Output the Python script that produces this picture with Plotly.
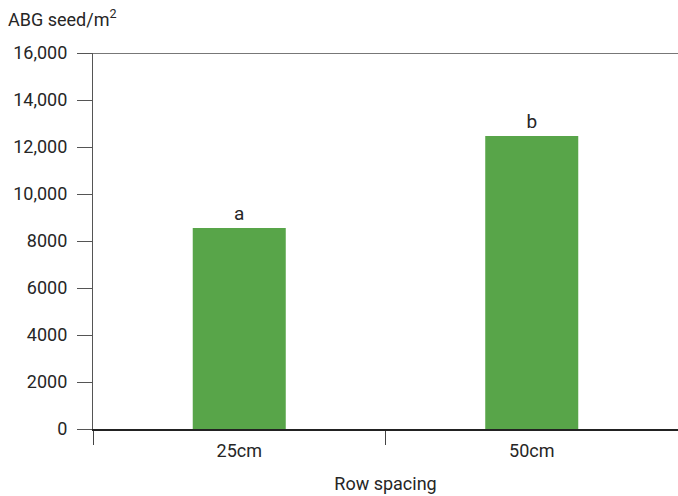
import plotly.graph_objects as go

categories = ["25cm", "50cm"]
values = [8550, 12470]
letters = ["a", "b"]
y_tickvals = [0, 2000, 4000, 6000, 8000, 10000, 12000, 14000, 16000]
y_ticktext = ["0", "2000", "4000", "6000", "8000", "10,000", "12,000", "14,000", "16,000"]

FONT = "Roboto"
TXT = "#262626"
GREEN = "#58a549"

W, H = 678, 496
ML, MR, MT, MB = 93, 0, 53, 67
PW = W - ML - MR

fig = go.Figure()
fig.add_trace(go.Bar(
    x=categories, y=values, marker_color=GREEN, marker_line_width=0,
    text=letters, textposition="outside", cliponaxis=False,
    textfont=dict(family=FONT, size=19, color=TXT),
    width=0.318,
))

fig.update_layout(
    width=W, height=H,
    margin=dict(l=ML, r=MR, t=MT, b=MB, autoexpand=False),
    plot_bgcolor="white", paper_bgcolor="white",
    font=dict(family=FONT, size=18, color=TXT),
    showlegend=False,
    xaxis=dict(
        showline=True, linecolor="#222222", linewidth=1.5,
        ticks="outside", tickson="boundaries", ticklen=14, tickcolor="#444444", tickwidth=1,
        showgrid=False, zeroline=False, ticklabelstandoff=5,
        title=dict(text="Row spacing", standoff=17, font=dict(size=18)),
        tickfont=dict(size=18),
    ),
    yaxis=dict(
        range=[0, 16000], tickvals=y_tickvals, ticktext=y_ticktext,
        showline=True, linecolor="#555555", linewidth=1.2,
        ticks="outside", ticklen=15, tickcolor="#555555", tickwidth=1,
        showgrid=False, zeroline=False, ticklabelstandoff=6,
        tickfont=dict(size=18),
    ),
    annotations=[dict(
        text="ABG seed/m<sup>2</sup>", xref="paper", yref="paper",
        x=-(ML - 6) / PW, y=1, xanchor="left", yanchor="bottom", yshift=21,
        showarrow=False, font=dict(family=FONT, size=18, color=TXT),
    )],
    shapes=[dict(
        type="line", xref="paper", yref="y", x0=0, x1=1,
        y0=y_tickvals[-1], y1=y_tickvals[-1],
        line=dict(color="#777777", width=2),
    )],
    bargap=0.68,
)

fig.write_html(
    "out.html",
    config={"displayModeBar": False},
    post_script="document.body.style.margin='0px';document.body.style.overflow='hidden';",
)
